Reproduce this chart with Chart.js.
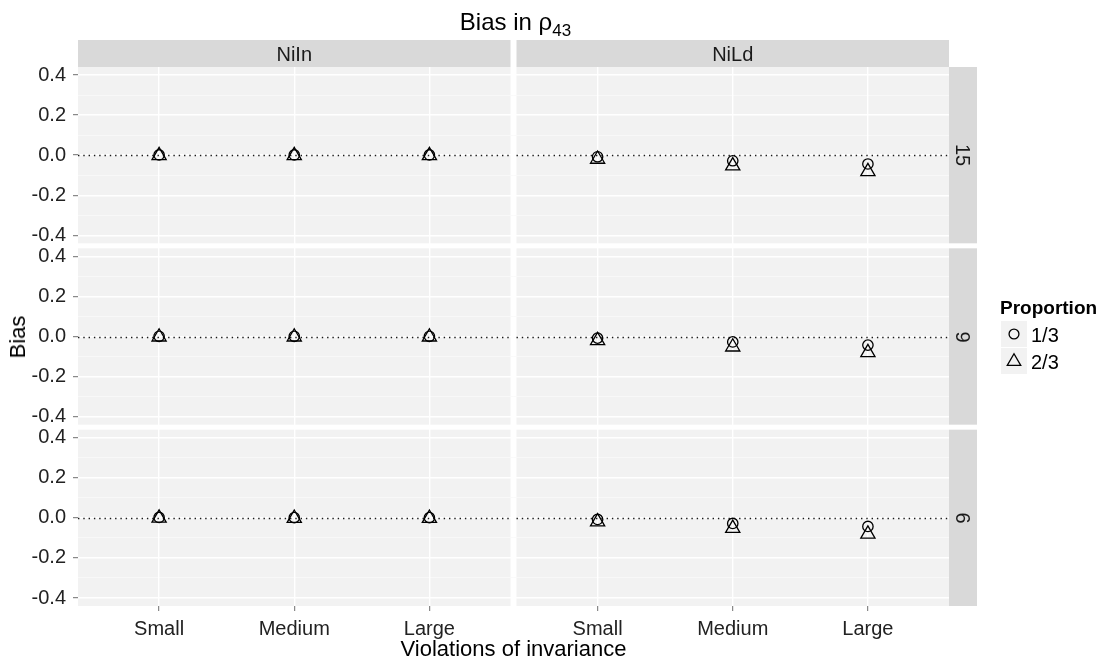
<!DOCTYPE html>
<html>
<head>
<meta charset="utf-8">
<script src="https://cdn.jsdelivr.net/npm/chart.js@4.4.1/dist/chart.umd.min.js"></script>
<style>
  body { margin: 0; background: #fff; }
  #wrap { position: relative; width: 1104px; height: 662px; overflow: hidden;
          font-family: 'Liberation Sans', Arial, sans-serif; color: #000; }
  canvas { position: absolute; left: 0; top: 0; }
  .t { position: absolute; white-space: nowrap; line-height: 1; }
</style>
</head>
<body>
<div id="wrap">
  <canvas id="c" width="1104" height="662"></canvas>
</div>
<script>
// ---------- data ----------
const categories = ['Small', 'Medium', 'Large'];
const columns = ['NiIn', 'NiLd'];
const rows = ['15', '9', '6'];
const proportions = ['1/3', '2/3'];
const yTickValues = [-0.4, -0.3, -0.2, -0.1, 0, 0.1, 0.2, 0.3, 0.4];

const niIn15_oneThird  = [0.001, 0.001, 0.001];
const niIn15_twoThirds = [-0.002, -0.002, -0.002];
const niLd15_oneThird  = [-0.008, -0.028, -0.044];
const niLd15_twoThirds = [-0.020, -0.053, -0.082];

const niIn9_oneThird   = [0.001, 0.001, 0.001];
const niIn9_twoThirds  = [-0.002, -0.002, -0.002];
const niLd9_oneThird   = [-0.008, -0.027, -0.043];
const niLd9_twoThirds  = [-0.020, -0.052, -0.080];

const niIn6_oneThird   = [0.002, 0.001, 0.001];
const niIn6_twoThirds  = [-0.001, -0.002, -0.002];
const niLd6_oneThird   = [-0.008, -0.028, -0.043];
const niLd6_twoThirds  = [-0.020, -0.052, -0.081];

const panelSeries = [
  [[niIn15_oneThird, niIn15_twoThirds], [niLd15_oneThird, niLd15_twoThirds]],
  [[niIn9_oneThird,  niIn9_twoThirds],  [niLd9_oneThird,  niLd9_twoThirds]],
  [[niIn6_oneThird,  niIn6_twoThirds],  [niLd6_oneThird,  niLd6_twoThirds]]
];

// ---------- style ----------
const FONT = "'Liberation Sans', Arial, sans-serif";
const PANEL_BG = '#F2F2F2';
const STRIP_BG = '#D9D9D9';
const TICK_TXT = '#222222';
const TICK_MARK = '#6E6E6E';
const shapes = ['circle', 'triangle'];
const radii = [5.2, 8.2];
const PANEL_LIM = 0.44;
const yRanges = [[-0.4525, 0.44], [-0.4525, 0.4525], [-0.44, 0.4525]];
const xRanges = [[0.4, 3.6222], [0.3778, 3.6]];

const isMajor = v => Math.round(v * 10) % 2 === 0;

// ---------- scales ----------
const scales = {};
rows.forEach((r, i) => {
  scales['y' + (i + 1)] = {
    type: 'linear', position: 'left', stack: 'rows',
    stackWeight: yRanges[i][1] - yRanges[i][0], weight: 3 - i,
    min: yRanges[i][0], max: yRanges[i][1], bounds: 'data',
    afterBuildTicks: s => { s.ticks = yTickValues.map(v => ({ value: v })); },
    afterFit: s => { s.width = 78; },
    border: { display: false },
    grid: {
      color: c => (c.tick && isMajor(c.tick.value)) ? '#FFFFFF' : '#F9F9F9',
      lineWidth: c => (c.tick && isMajor(c.tick.value)) ? 1.4 : 0.8,
      tickColor: c => (c.tick && isMajor(c.tick.value)) ? TICK_MARK : 'rgba(0,0,0,0)',
      tickLength: 5, tickWidth: 1
    },
    ticks: {
      autoSkip: false, padding: 7, color: TICK_TXT,
      font: { family: FONT, size: 20 },
      callback: v => isMajor(v) ? v.toFixed(1) : ''
    }
  };
});
columns.forEach((c, j) => {
  scales['x' + (j + 1)] = {
    type: 'linear', position: 'bottom', stack: 'cols',
    stackWeight: xRanges[j][1] - xRanges[j][0], weight: j,
    min: xRanges[j][0], max: xRanges[j][1], bounds: 'data',
    afterBuildTicks: s => { s.ticks = categories.map((_, k) => ({ value: k + 1 })); },
    afterFit: s => { s.height = 40; },
    border: { display: false },
    grid: { color: '#FFFFFF', lineWidth: 1.4, tickColor: TICK_MARK, tickLength: 5, tickWidth: 1 },
    ticks: {
      autoSkip: false, maxRotation: 0, minRotation: 0, padding: 6, color: TICK_TXT,
      font: { family: FONT, size: 20 },
      callback: v => categories[Math.round(v) - 1]
    }
  };
});

// ---------- datasets ----------
const datasets = [];
rows.forEach((r, i) => {
  columns.forEach((c, j) => {
    proportions.forEach((p, k) => {
      datasets.push({
        label: c + ' ' + r + ' ' + p,
        data: categories.map((cat, n) => ({ x: n + 1, y: panelSeries[i][j][k][n] })),
        xAxisID: 'x' + (j + 1), yAxisID: 'y' + (i + 1),
        showLine: false,
        pointStyle: shapes[k], pointRadius: radii[k], pointHoverRadius: radii[k],
        pointBorderWidth: 1.3, pointBorderColor: '#000000',
        pointBackgroundColor: 'rgba(0,0,0,0)'
      });
    });
  });
});

function panelRect(chart, i, j) {
  const ys = chart.scales['y' + (i + 1)], xs = chart.scales['x' + (j + 1)];
  return {
    left: xs.getPixelForValue(0.4), right: xs.getPixelForValue(3.6),
    top: ys.getPixelForValue(PANEL_LIM), bottom: ys.getPixelForValue(-PANEL_LIM)
  };
}

const facetPlugin = {
  id: 'facets',
  beforeDraw(chart) {
    const ctx = chart.ctx;
    ctx.save();
    rows.forEach((r, i) => columns.forEach((c, j) => {
      const p = panelRect(chart, i, j);
      ctx.fillStyle = PANEL_BG;
      ctx.fillRect(p.left, p.top, p.right - p.left, p.bottom - p.top);
    }));
    ctx.fillStyle = STRIP_BG;
    columns.forEach((c, j) => {
      const p = panelRect(chart, 0, j);
      ctx.fillRect(p.left, p.top - 27, p.right - p.left, 27);
    });
    rows.forEach((r, i) => {
      const p = panelRect(chart, i, 1);
      ctx.fillRect(p.right, p.top, 28, p.bottom - p.top);
    });
    ctx.restore();
  },
  beforeDatasetsDraw(chart) {
    const ctx = chart.ctx;
    ctx.save();
    ctx.strokeStyle = '#1A1A1A';
    ctx.lineWidth = 1.3;
    ctx.setLineDash([1.4, 3.9]);
    rows.forEach((r, i) => columns.forEach((c, j) => {
      const p = panelRect(chart, i, j);
      const y0 = Math.round(chart.scales['y' + (i + 1)].getPixelForValue(0)) + 0.5;
      ctx.beginPath();
      ctx.moveTo(p.left, y0);
      ctx.lineTo(p.right, y0);
      ctx.stroke();
    }));
    ctx.restore();
  },
  afterDraw(chart) {
    const ctx = chart.ctx;
    ctx.save();
    proportions.forEach((p, k) => {
      const bx = 1001, by = 321 + k * 27;
      ctx.fillStyle = PANEL_BG;
      ctx.fillRect(bx, by, 26, 26);
      ctx.fillStyle = 'rgba(0,0,0,0)';
      ctx.strokeStyle = '#000000';
      ctx.lineWidth = 1.3;
      Chart.helpers.drawPoint(ctx, { pointStyle: shapes[k], radius: radii[k] * 0.95, borderWidth: 1.3, rotation: 0 },
        bx + 13, by + 13 + (k === 1 ? 0.5 : 0));
    });
    ctx.restore();
  }
};

const chart = new Chart(document.getElementById('c'), {
  type: 'scatter',
  data: { datasets },
  options: {
    responsive: false, animation: false, devicePixelRatio: 1,
    layout: { padding: { left: 0, top: 67, right: 155, bottom: 16 } },
    plugins: { legend: { display: false }, tooltip: { enabled: false }, title: { display: false } },
    scales
  },
  plugins: [facetPlugin]
});

// ---------- text overlays ----------
const wrap = document.getElementById('wrap');
function addText(html, cx, cy, size, opts = {}) {
  const el = document.createElement('div');
  el.className = 't';
  el.innerHTML = html;
  el.style.fontSize = size + 'px';
  if (opts.bold) el.style.fontWeight = 'bold';
  if (opts.color) el.style.color = opts.color;
  el.style.left = cx + 'px';
  el.style.top = cy + 'px';
  const tx = opts.leftAlign ? '0' : '-50%';
  el.style.transform = `translate(${tx},-50%)` + (opts.rot ? ` rotate(${opts.rot}deg)` : '');
  wrap.appendChild(el);
  return el;
}
const p00 = panelRect(chart, 0, 0), p01 = panelRect(chart, 0, 1), p21 = panelRect(chart, 2, 1);
const midX = (p00.left + p01.right) / 2;
const midY = (p00.top + p21.bottom) / 2;

addText('Bias in ρ<span style="font-size:17px;position:relative;top:6px">43</span>', midX + 2, 21.5, 24);
columns.forEach((c, j) => {
  const p = panelRect(chart, 0, j);
  addText(c, (p.left + p.right) / 2, p.top - 13.5, 20, { color: '#1A1A1A' });
});
rows.forEach((r, i) => {
  const p = panelRect(chart, i, 1);
  addText(r, p.right + 14, (p.top + p.bottom) / 2, 20, { color: '#1A1A1A', rot: 90 });
});
addText('Violations of invariance', midX, 649, 22);
addText('Bias', 18, midY, 22, { rot: -90 });
addText('Proportion', 1000, 306.5, 19, { bold: true, leftAlign: true });
proportions.forEach((p, k) => addText(p, 1031, 334.5 + k * 27.5, 20, { leftAlign: true }));
</script>
</body>
</html>
